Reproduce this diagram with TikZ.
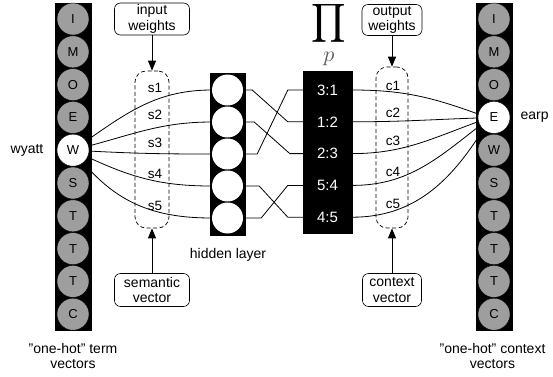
\documentclass[tikz,border=0pt]{standalone}
\usepackage{fontspec}
\setmainfont{Liberation Sans}
\usetikzlibrary{arrows.meta}
\definecolor{cgray}{RGB}{158,158,158}
\definecolor{pgray}{RGB}{95,95,95}
\begin{document}
\begin{tikzpicture}[x=1pt,y=-1pt,
  lbl/.style={font=\fontsize{14}{15.5}\selectfont},
  bar/.style={fill=black,draw=black,inner sep=0},
  term/.style={circle,fill=cgray,draw=black,line width=0.4pt,minimum size=32pt,inner sep=0,font=\fontsize{13}{14}\selectfont},
  hot/.style={term,fill=white},
  hid/.style={circle,fill=white,minimum size=31pt,inner sep=0},
  prow/.style={text=white,minimum width=49pt,inner sep=0,font=\fontsize{15}{16}\selectfont},
  wt/.style={font=\fontsize{13.5}{15}\selectfont},
  dbox/.style={draw,rounded corners=11pt,line width=0.7pt,dash pattern=on 4pt off 2.5pt},
  callout/.style={draw,rounded corners=6pt,fill=white,align=center,inner sep=0,font=\fontsize{14}{15.5}\selectfont,line width=0.6pt},
  conn/.style={line width=0.8pt},
  arr/.style={line width=0.8pt,-{Triangle[length=10pt,width=8pt]}}
]
\useasboundingbox (0,0) rectangle (553,376);
% columns of one-hot vectors
\node[bar,minimum width=36pt,minimum height=327pt] (lbar) at (73,166.5) {};
\node[bar,minimum width=36pt,minimum height=327pt] (rbar) at (494,166.5) {};
\foreach \t/\s [count=\i] in {I/term,M/term,O/term,E/term,W/hot,S/term,T/term,T/term,T/term,C/term}
  \node[\s] (lt\i) at (73,{19+32.8*(\i-1)}) {\t};
\foreach \t/\s [count=\i] in {I/term,M/term,O/term,E/hot,W/term,S/term,T/term,T/term,T/term,C/term}
  \node[\s] (rt\i) at (494,{19+32.8*(\i-1)}) {\t};
% hidden layer
\node[bar,minimum width=35pt,minimum height=162pt] (hbar) at (227.5,154) {};
\foreach \i in {1,...,5}
  \node[hid] (h\i) at (227.5,{90+32*(\i-1)}) {};
% permutation box
\node[bar,minimum width=49pt,minimum height=162pt] (pbox) at (327.5,152) {};
\foreach \t [count=\i] in {3:1,1:2,2:3,5:4,4:5}
  \node[prow] (p\i) at (327.5,{90+31.8*(\i-1)}) {\t};
\node[scale=2.7,inner sep=0] (pi) at (329,23) {$\displaystyle\prod$};
\node[text=pgray,scale=2.2,inner sep=0] (pp) at (329,59) {$p$};
% dashed weight boxes
\node[dbox,minimum width=34pt,minimum height=157pt] (sbox) at (152,149.5) {};
\node[dbox,minimum width=32pt,minimum height=161pt] (cbox) at (392,147.5) {};
\foreach \y [count=\i] in {88,115,143,174,206} {
  \node[wt] (s\i) at (155,\y) {s\i};
  \node[wt] (c\i) at (393,{\y-2}) {c\i};
}
% W -> hidden
\draw[conn] (lt5.35) to[out=35,in=180] (h1.west);
\draw[conn] (lt5.15) to[out=15,in=180] (h2.west);
\draw[conn] (lt5.-3) to[out=-3,in=180] (h3.west);
\draw[conn] (lt5.-25) to[out=-25,in=180] (h4.west);
\draw[conn] (lt5.-50) to[out=-50,in=180] (h5.west);
% hidden -> permutation
\draw[conn] (h1.east) -- ++(9,0) -- ([xshift=-15pt]p2.west) -- (p2.west);
\draw[conn] (h2.east) -- ++(11,0) -- ([xshift=-13pt]p3.west) -- (p3.west);
\draw[conn] (h3.east) -- ++(14,0) -- ([xshift=-15pt]p1.west) -- (p1.west);
\draw[conn] (h4.east) -- ++(16,0) -- ([xshift=-15pt]p5.west) -- (p5.west);
\draw[conn] (h5.east) -- ++(18,0) -- ([xshift=-15pt]p4.west) -- (p4.west);
% permutation -> E
\draw[conn] (p1.east) to[out=0,in=160] (rt4.168);
\draw[conn] (p2.east) to[out=0,in=182] (rt4.182);
\draw[conn] (p3.east) to[out=0,in=200] (rt4.195);
\draw[conn] (p4.east) to[out=0,in=218] (rt4.210);
\draw[conn] (p5.east) to[out=0,in=238] (rt4.228);
% callouts
\node[callout,minimum width=75pt,minimum height=32pt] (inw) at (152,19) {input\\weights};
\node[callout,minimum width=60pt,minimum height=31pt] (outw) at (392,20) {output\\weights};
\node[callout,minimum width=75pt,minimum height=33pt] (sem) at (152,290) {semantic\\vector};
\node[callout,minimum width=59pt,minimum height=33pt] (ctx) at (392,290) {context\\vector};
\draw[arr] (inw.south) -- (sbox.north);
\draw[arr] (outw.south) -- (cbox.north);
\draw[arr] (sem.north) -- (sbox.south);
\draw[arr] (ctx.north) -- (cbox.south);
% labels
\node[lbl] (wy) at (27,150) {wyatt};
\node[lbl,anchor=west] (ea) at (517,117) {earp};
\node[lbl] (hl) at (228,255) {hidden layer};
\node[lbl,align=center] (tv) at (73,356) {"one-hot" term\\vectors};
\node[lbl,align=center] (cv) at (492.5,356) {"one-hot" context\\vectors};
\end{tikzpicture}
\end{document}
